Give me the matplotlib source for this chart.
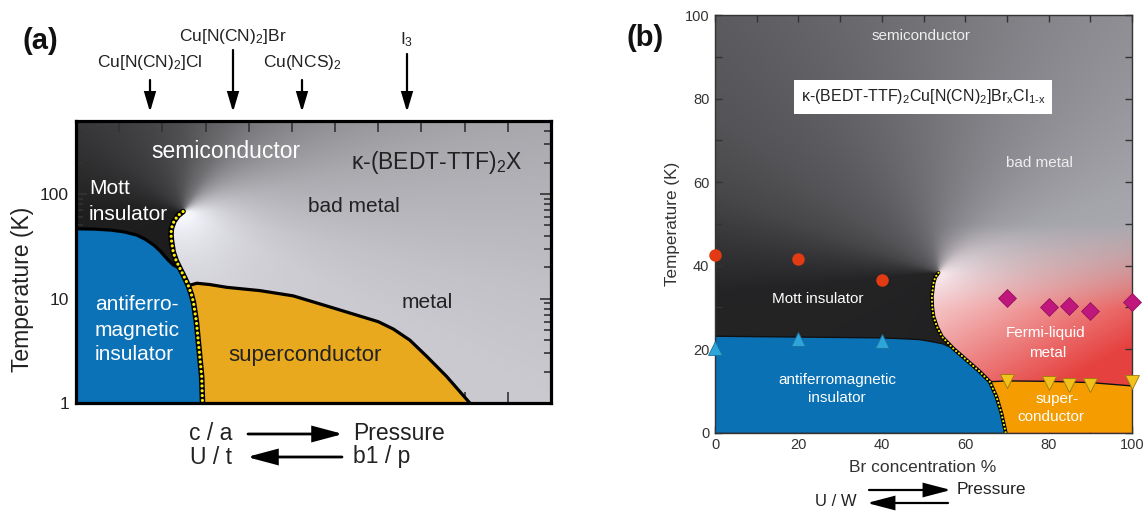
import numpy as np
import matplotlib
matplotlib.use("Agg")
import matplotlib.pyplot as plt
from matplotlib.patches import Polygon, FancyArrowPatch
from matplotlib.ticker import FixedLocator, NullFormatter, NullLocator

plt.rcParams["font.family"] = ["Liberation Sans", "DejaVu Sans"]
plt.rcParams["mathtext.fontset"] = "custom"
plt.rcParams["mathtext.rm"] = "Liberation Sans"
plt.rcParams["mathtext.it"] = "Liberation Sans:italic"
plt.rcParams["mathtext.bf"] = "Liberation Sans:bold"

# ---------------- panel (a): generic kappa-(BEDT-TTF)2X diagram ----------------
# first-order Mott line, from the critical end point down to the lowest temperature
mott_x_a = [2.48, 2.36, 2.27, 2.21, 2.20, 2.21, 2.25, 2.32, 2.41, 2.51, 2.60, 2.67, 2.72, 2.79, 2.85, 2.91, 2.93]
mott_T_a = [68.0, 62.0, 55.0, 47.0, 41.0, 36.0, 28.0, 23.0, 19.3, 16.0, 13.3, 11.0, 9.2, 5.9, 3.25, 1.8, 1.0]
# antiferromagnetic boundary (ends on the Mott line)
afm_x_a = [0.0, 0.4, 0.8, 1.1, 1.4, 1.6, 1.8, 1.95, 2.05, 2.15, 2.25, 2.41]
afm_T_a = [46.5, 46.2, 45.2, 43.5, 40.6, 37.0, 32.5, 28.5, 25.5, 23.0, 21.0, 19.3]
# superconducting dome
sc_x_a = [2.60, 2.80, 3.10, 3.49, 4.26, 5.03, 5.80, 6.57, 7.00, 7.35, 7.73, 8.12, 8.58, 9.12]
sc_T_a = [13.3, 14.0, 13.6, 12.8, 11.9, 10.6, 8.5, 6.8, 6.0, 5.1, 4.0, 2.8, 1.8, 1.0]
tick_T_a = [1, 10, 100]
tick_lbl_a = ["1", "10", "100"]
salts_a = ["Cu[N(CN)$_2$]Cl", "Cu[N(CN)$_2$]Br", "Cu(NCS)$_2$", "I$_3$"]

# ---------------- panel (b): Br_x Cl_(1-x) alloy series ----------------
mott_x_b = [53.6, 52.8, 52.4, 52.0, 52.1, 52.4, 53.2, 54.4, 57.1, 60.3, 63.5, 65.9, 67.5, 68.7, 69.5, 69.7]
mott_T_b = [38.3, 37.2, 35.8, 32.6, 30.0, 27.8, 25.4, 23.0, 20.2, 17.4, 14.6, 12.2, 8.6, 4.6, 1.0, 0.0]
afm_x_b = [0.0, 10.0, 20.0, 30.0, 40.0, 45.0, 49.0, 52.0, 54.5, 57.1]
afm_T_b = [23.1, 23.0, 22.9, 22.8, 22.7, 22.5, 22.3, 21.8, 21.3, 20.2]
sc_x_b = [65.9, 70.0, 80.0, 90.0, 100.0]
sc_T_b = [12.2, 12.4, 12.3, 12.0, 11.2]

mott_pts_x = [0, 20, 40]
mott_pts_T = [42.5, 41.6, 36.5]
neel_pts_x = [0, 20, 40]
neel_pts_T = [20.2, 22.5, 22.0]
fl_pts_x = [70, 80, 85, 90, 100]
fl_pts_T = [32.2, 30.0, 30.3, 29.1, 31.4]
tc_pts_x = [70, 80, 85, 90, 100]
tc_pts_T = [12.3, 12.0, 11.5, 11.4, 12.2]
ticks_b = [0, 20, 40, 60, 80, 100]

W, H = 1143, 512
fig = plt.figure(figsize=(W / 100, H / 100), dpi=100)


def fp(x, y):
    return (x / W, 1 - y / H)


def ftext(x, y, s, **kw):
    kw.setdefault("ha", "center")
    kw.setdefault("va", "center")
    return fig.text(x / W, 1 - y / H, s, **kw)


def farrow(x0, y0, x1, y1, hl, hw, lw):
    a = FancyArrowPatch(fp(x0, y0), fp(x1, y1), transform=fig.transFigure,
                        arrowstyle=f"-|>,head_length={hl},head_width={hw}",
                        mutation_scale=1, lw=lw, color="black",
                        shrinkA=0, shrinkB=0, joinstyle="miter")
    fig.add_artist(a)


def shading(ax, line_x, line_T, knots, vals, glow_r, glow_k, glow_v, nx=480, ny=360):
    """Angular grey field around the critical end point, cut along the Mott line."""
    box = ax.get_window_extent()
    wpx, hpx = box.width, box.height
    to_ax = ax.transData + ax.transAxes.inverted()
    p = to_ax.transform(np.column_stack([line_x, line_T]))
    lu, lv = p[:, 0], p[:, 1]
    cu, cv = lu[0], lv[0]
    U, V = np.meshgrid(np.linspace(0, 1, nx), np.linspace(0, 1, ny))
    dx = (U - cu) * wpx
    dy = (V - cv) * hpx
    th = np.degrees(np.arctan2(dy, dx))
    order = np.argsort(lv)
    edge_u = np.interp(V, lv[order], lu[order])
    left = (V < cv) & (U < edge_u)
    phi = np.where(left, np.where(th < 0, th + 360, th), th)
    r = np.hypot(dx, dy)
    base = np.interp(phi, knots, vals)
    w = np.interp(phi, glow_k, glow_v)
    g = base + (1 - base) * np.exp(-r / glow_r) * w
    return g, U, V, phi


# ================================ panel (a) ================================
axa = fig.add_axes([76 / W, 1 - 403 / H, 475 / W, 282 / H])
axa.set_yscale("log")
axa.set_xlim(0, 11)
axa.set_ylim(1, 500)

g, U, V, phi = shading(axa, mott_x_a, mott_T_a,
                       [-180, -60, -27, -13, 14, 38, 65, 90, 139, 180, 360],
                       [0.80, 0.80, 0.79, 0.76, 0.66, 0.53, 0.40, 0.31, 0.22, 0.12, 0.10],
                       glow_r=42, glow_k=[-180, 0, 60, 110, 360], glow_v=[1, 1, 0.15, 0, 0])
rgb = np.dstack([g, g, np.clip(g * 1.03, 0, 1)])
axa.imshow(rgb, extent=(0, 1, 0, 1), transform=axa.transAxes, origin="lower",
           aspect="auto", interpolation="bilinear", zorder=0)
axa.set_xlim(0, 11)
axa.set_ylim(1, 500)

mxa = np.array(mott_x_a)
mTa = np.array(mott_T_a)
low = mTa <= afm_T_a[-1]
afm_poly = list(zip(afm_x_a, afm_T_a)) + list(zip(mxa[low], mTa[low])) + [(0, 1)]
axa.add_patch(Polygon(afm_poly, closed=True, fc="#0b72b8", ec="none", zorder=2))
under = mTa <= sc_T_a[0]
sc_poly = list(zip(sc_x_a, sc_T_a)) + list(zip(mxa[under][::-1], mTa[under][::-1]))
axa.add_patch(Polygon(sc_poly, closed=True, fc="#e8a91e", ec="none", zorder=2))

axa.plot(afm_x_a, afm_T_a, color="black", lw=2.3, zorder=3, solid_capstyle="round",
         solid_joinstyle="round")
axa.plot(sc_x_a, sc_T_a, color="black", lw=2.3, zorder=3, solid_capstyle="round",
         solid_joinstyle="round")
axa.plot(mott_x_a, mott_T_a, color="black", lw=4.0, zorder=4, solid_capstyle="round",
         solid_joinstyle="round")
axa.plot(mott_x_a, mott_T_a, color="#ffee00", lw=2.3, zorder=5,
         linestyle=(0, (0.01, 1.5)), dash_capstyle="round")

axa.xaxis.set_major_locator(FixedLocator(np.arange(1, 11)))
axa.xaxis.set_minor_locator(NullLocator())
axa.xaxis.set_major_formatter(NullFormatter())
axa.yaxis.set_major_locator(FixedLocator(tick_T_a))
axa.set_yticklabels(tick_lbl_a)
axa.yaxis.set_minor_locator(FixedLocator([m * d for d in (1, 10, 100) for m in range(2, 10)]))
axa.yaxis.set_minor_formatter(NullFormatter())
axa.tick_params(which="both", direction="in", top=True, right=True, color="#333333", width=1.2)
axa.tick_params(which="major", length=8, labelsize=12.5, labelcolor="#222222", pad=5)
axa.tick_params(which="minor", length=5)
for s in axa.spines.values():
    s.set_linewidth(2.3)
    s.set_color("black")
    s.set_zorder(6)

ftext(23, 289, "Temperature (K)", rotation=90, fontsize=16.5, color="#222222")
ftext(40, 41, "(a)", fontsize=21, fontweight="bold", color="#111111")

# compounds placed along the pressure axis
salt_px = [(150, 63, 80), (233, 36, 50), (302, 63, 80), (407, 40, 54)]
for name, (xp, yt, ya) in zip(salts_a, salt_px):
    ftext(xp, yt, name, fontsize=12.5, color="#222222")
    farrow(xp, ya, xp, 112, hl=11.5, hw=3.4, lw=1.6)

ftext(226, 152, "semiconductor", fontsize=16.5, color="white")
ftext(437, 163, "κ-(BEDT-TTF)$_2$X", fontsize=16.5, color="#222222")
ftext(89, 189, "Mott", fontsize=15, color="white", ha="left")
ftext(89, 214, "insulator", fontsize=15, color="white", ha="left")
ftext(354, 207, "bad metal", fontsize=15, color="#222222")
ftext(427, 303, "metal", fontsize=15, color="#222222")
ftext(95, 304, "antiferro-", fontsize=15, color="white", ha="left")
ftext(95, 330, "magnetic", fontsize=15, color="white", ha="left")
ftext(95, 355, "insulator", fontsize=15, color="white", ha="left")
ftext(305, 355, "superconductor", fontsize=16, color="#222222")

ftext(232, 433, "c / a", fontsize=16.5, color="#222222", ha="right")
ftext(353, 433, "Pressure", fontsize=16.5, color="#222222", ha="left")
ftext(232, 457, "U / t", fontsize=16.5, color="#222222", ha="right")
ftext(353, 457, "b1 / p", fontsize=16.5, color="#222222", ha="left")
farrow(248, 434, 343, 434, hl=18, hw=4.8, lw=2.0)
farrow(342, 457, 247, 457, hl=18, hw=4.8, lw=2.0)

# ================================ panel (b) ================================
axb = fig.add_axes([715 / W, 1 - 432.7 / H, 417 / W, 417.7 / H])
axb.set_xlim(0, 100)
axb.set_ylim(0, 100)

g, U, V, phi = shading(axb, mott_x_b, mott_T_b,
                       [-180, -60, 0, 25, 53, 94, 131, 145, 160, 172, 185, 360],
                       [0.85, 0.80, 0.68, 0.64, 0.56, 0.45, 0.36, 0.33, 0.28, 0.21, 0.14, 0.12],
                       glow_r=32, glow_k=[-180, 0, 60, 110, 360], glow_v=[1, 1, 0.2, 0, 0])
gray = np.dstack([g, g, np.clip(g * 1.04, 0, 1)])
Tg = V * 100
Xg = U * 100
a = np.clip((50 - Tg) / 20, 0, 1) * np.clip((100 - phi) / 60, 0, 1)
t = np.clip(0.6 * (Xg - 55) / 45 + 0.6 * (38 - Tg) / 25, 0, 1)[..., None]
light = np.array([0.97, 0.87, 0.88])
red = np.array([0.90, 0.26, 0.25])
pink = light * (1 - t) + red * t
img = gray * (1 - a[..., None]) + pink * a[..., None]
axb.imshow(np.clip(img, 0, 1), extent=(0, 1, 0, 1), transform=axb.transAxes, origin="lower",
           aspect="auto", interpolation="bilinear", zorder=0)
axb.set_xlim(0, 100)
axb.set_ylim(0, 100)

mxb = np.array(mott_x_b)
mTb = np.array(mott_T_b)
low = mTb <= afm_T_b[-1]
afm_poly = list(zip(afm_x_b, afm_T_b)) + list(zip(mxb[low], mTb[low])) + [(0, 0)]
axb.add_patch(Polygon(afm_poly, closed=True, fc="#0a71b5", ec="none", zorder=2))
under = mTb <= sc_T_b[0]
sc_poly = (list(zip(sc_x_b, sc_T_b)) + [(100, 0)]
           + list(zip(mxb[under][::-1], mTb[under][::-1])))
axb.add_patch(Polygon(sc_poly, closed=True, fc="#f59c00", ec="none", zorder=2))

axb.plot(afm_x_b, afm_T_b, color="#111111", lw=1.0, zorder=3)
axb.plot(sc_x_b, sc_T_b, color="#111111", lw=1.0, zorder=3)
axb.plot(mott_x_b, mott_T_b, color="black", lw=2.7, zorder=4, solid_capstyle="round",
         solid_joinstyle="round")
axb.plot(mott_x_b, mott_T_b, color="#ffee00", lw=1.6, zorder=5,
         linestyle=(0, (0.01, 1.7)), dash_capstyle="round")

axb.plot(mott_pts_x, mott_pts_T, "o", ms=9, color="#e23a12", mec="none", zorder=7, clip_on=False)
axb.plot(neel_pts_x, neel_pts_T, "^", ms=10, color="#2ea5d8", mec="#1b6f9a", mew=0.6, zorder=7, clip_on=False)
axb.plot(fl_pts_x, fl_pts_T, "D", ms=9.5, color="#c0177c", mec="#8a0e58", mew=0.5, zorder=7, clip_on=False)
axb.plot(tc_pts_x, tc_pts_T, "v", ms=10, color="#f2c21b", mec="#9a7a10", mew=0.6, zorder=7, clip_on=False)

axb.xaxis.set_major_locator(FixedLocator(ticks_b))
axb.yaxis.set_major_locator(FixedLocator(ticks_b))
axb.xaxis.set_minor_locator(FixedLocator([10, 30, 50, 70, 90]))
axb.yaxis.set_minor_locator(FixedLocator([10, 30, 50, 70, 90]))
axb.tick_params(which="both", direction="in", top=True, right=True, color="#333333",
                width=1.0, length=5)
axb.tick_params(which="major", labelsize=10.5, labelcolor="#333333", pad=4)
for s in axb.spines.values():
    s.set_linewidth(1.0)
    s.set_color("#333333")
    s.set_zorder(6)

ftext(673, 224, "Temperature (K)", rotation=90, fontsize=12.3, color="#333333")
ftext(923, 468, "Br concentration %", fontsize=12.5, color="#333333")
ftext(645, 38, "(b)", fontsize=21, fontweight="bold", color="#111111")

ftext(921, 36, "semiconductor", fontsize=11, color="#eeeeee")
ftext(923, 97, "κ-(BEDT-TTF)$_2$Cu[N(CN)$_2$]Br$_\\mathrm{x}$Cl$_\\mathrm{1\\text{-}x}$",
      fontsize=11.5, color="#222222",
      bbox=dict(boxstyle="square,pad=0.45", fc="white", ec="none"))
ftext(1039, 163, "bad metal", fontsize=11, color="#eeeeee")
ftext(818, 299, "Mott insulator", fontsize=11, color="white")
ftext(1046, 333, "Fermi-liquid", fontsize=11, color="white")
ftext(1048, 353, "metal", fontsize=11, color="white")
ftext(837, 380, "antiferromagnetic", fontsize=11, color="white")
ftext(837, 398, "insulator", fontsize=11, color="white")
ftext(1057, 399, "super-", fontsize=11, color="white")
ftext(1051, 417, "conductor", fontsize=11, color="white")

farrow(869, 490, 951, 490, hl=16.5, hw=4.3, lw=1.6)
farrow(948, 503, 867, 503, hl=16.5, hw=4.3, lw=1.6)
ftext(957, 490, "Pressure", fontsize=12.5, color="#222222", ha="left")
ftext(857, 502, "U / W", fontsize=12, color="#222222", ha="right")

fig.savefig("out.png", dpi=100)
